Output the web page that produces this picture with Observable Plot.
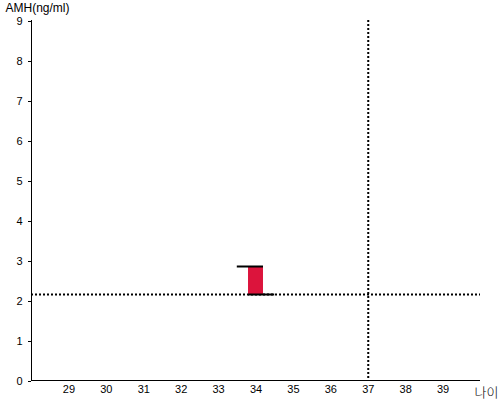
<!DOCTYPE html>
<html>
<head>
<meta charset="utf-8">
<script src="https://cdn.jsdelivr.net/npm/d3@7"></script>
<script src="https://cdn.jsdelivr.net/npm/@observablehq/plot@0.6"></script>
<style>
  html, body { margin: 0; padding: 0; background: #fff; }
</style>
</head>
<body>
<div id="chart"></div>
<script>
// Data
const ages = [34];
const amhHigh = [2.85];
const amhLow = [2.15];
const refAge = [37];
const refAmh = [2.15];
const xTicks = [29, 30, 31, 32, 33, 34, 35, 36, 37, 38, 39];
const yTicks = [0, 1, 2, 3, 4, 5, 6, 7, 8, 9];
const yLabel = "AMH(ng/ml)";
const xLabel = "나이";

const bars = ages.map((a, i) => ({age: a, high: amhHigh[i], low: amhLow[i]}));
const half = 0.2, tick = 0.5;

const chart = Plot.plot({
  width: 500,
  height: 400,
  marginLeft: 31,
  marginRight: 20,
  marginTop: 20,
  marginBottom: 20,
  style: {fontFamily: "'Liberation Sans', Arial, sans-serif", fontSize: "11px", color: "#000", background: "#fff"},
  x: {domain: [28, 40], ticks: xTicks},
  y: {domain: [0, 9], ticks: yTicks},
  marks: [
    Plot.axisX({ticks: xTicks, tickSize: 0, tickPadding: 5, label: null, tickFormat: d => String(d), fill: "#000"}),
    Plot.axisY({ticks: yTicks, tickSize: 3, tickPadding: 6, dy: 1, label: null, tickFormat: d => String(d), fill: "#000", stroke: "#000"}),
    Plot.ruleX([28], {stroke: "#000", strokeWidth: 1}),
    Plot.ruleY([0], {stroke: "#000", strokeWidth: 1}),
    Plot.ruleY(refAmh, {y: d => d, stroke: "#000", strokeWidth: 2, strokeDasharray: "2,2"}),
    Plot.ruleX(refAge, {x: d => d, stroke: "#000", strokeWidth: 2, strokeDasharray: "2,2"}),
    Plot.rect(bars, {x1: d => d.age - half, x2: d => d.age + half, y1: "low", y2: "high", fill: "#DC143C"}),
    Plot.ruleY(bars, {y: "high", x1: d => d.age - tick, x2: d => d.age + half, stroke: "#000", strokeWidth: 2}),
    Plot.ruleY(bars, {y: "low", x1: d => d.age - half, x2: d => d.age + tick, stroke: "#000", strokeWidth: 2}),
    Plot.text([yLabel], {frameAnchor: "top-left", text: d => d, dx: -26, dy: -12, textAnchor: "start", lineAnchor: "middle", fontSize: 12, fill: "#000"}),
    Plot.text([xLabel], {frameAnchor: "bottom-right", text: d => d, dx: -6, dy: 12, textAnchor: "start", lineAnchor: "middle", fontSize: 13, fontFamily: "'Noto Sans CJK KR', sans-serif", fontWeight: 300, fill: "#000"})
  ]
});
document.getElementById("chart").appendChild(chart);
</script>
</body>
</html>
